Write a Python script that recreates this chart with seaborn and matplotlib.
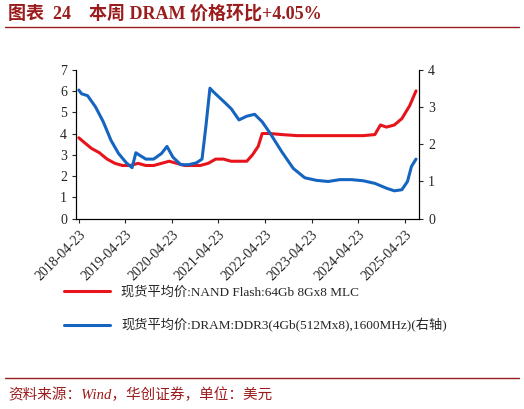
import pandas as pd
import seaborn as sns
import matplotlib.pyplot as plt

# NAND Flash 64Gb 8Gx8 MLC (left axis)
nand_dates = ["2018-04-23", "2018-06-01", "2018-08-01", "2018-10-01", "2018-12-01", "2019-02-01",
              "2019-04-01", "2019-06-01", "2019-08-01", "2019-10-01", "2019-12-01", "2020-02-01",
              "2020-04-01", "2020-06-01", "2020-08-01", "2020-10-01", "2020-12-01", "2021-02-01",
              "2021-04-01", "2021-06-01", "2021-08-01", "2021-10-01", "2021-12-01", "2022-01-15",
              "2022-03-01", "2022-04-01", "2022-06-01", "2022-09-01", "2023-01-01", "2023-06-01",
              "2024-01-01", "2024-06-01", "2024-09-01", "2024-10-15", "2024-12-01", "2025-02-01",
              "2025-04-01", "2025-06-01", "2025-07-21"]
nand_vals = [3.8, 3.6, 3.3, 3.1, 2.8, 2.6, 2.5, 2.5, 2.6, 2.5, 2.5, 2.6,
             2.7, 2.6, 2.5, 2.5, 2.5, 2.6, 2.8, 2.8, 2.7, 2.7, 2.7, 3.0,
             3.4, 4.0, 4.0, 3.95, 3.9, 3.9, 3.9, 3.9, 3.95, 4.4, 4.3, 4.4,
             4.7, 5.3, 6.0]

# DRAM DDR3 4Gb (right axis)
dram_dates = ["2018-04-23", "2018-05-15", "2018-07-01", "2018-09-01", "2018-11-01", "2019-01-01",
              "2019-03-01", "2019-05-01", "2019-06-15", "2019-07-15", "2019-08-15", "2019-10-01",
              "2019-12-01", "2020-02-01", "2020-03-15", "2020-05-01", "2020-07-01", "2020-09-01",
              "2020-11-01", "2020-12-15", "2021-01-15", "2021-02-15", "2021-03-15", "2021-04-15",
              "2021-06-01", "2021-08-01", "2021-10-01", "2021-12-01", "2022-02-01", "2022-04-01",
              "2022-06-01", "2022-09-01", "2022-12-01", "2023-03-01", "2023-06-01", "2023-09-01",
              "2023-12-01", "2024-03-01", "2024-06-01", "2024-09-01", "2024-12-01", "2025-02-01",
              "2025-04-01", "2025-05-15", "2025-06-15", "2025-07-21"]
dram_vals = [3.45, 3.35, 3.3, 3.0, 2.6, 2.1, 1.75, 1.5, 1.37, 1.77, 1.7, 1.6,
             1.6, 1.75, 1.94, 1.65, 1.45, 1.45, 1.5, 1.6, 2.5, 3.5, 3.4, 3.3,
             3.15, 2.95, 2.65, 2.75, 2.8, 2.6, 2.3, 1.8, 1.35, 1.1, 1.03, 1.0,
             1.05, 1.05, 1.02, 0.95, 0.82, 0.75, 0.78, 1.0, 1.4, 1.6]

tick_years = ["2018-04-23", "2019-04-23", "2020-04-23", "2021-04-23", "2022-04-23",
              "2023-04-23", "2024-04-23", "2025-04-23"]

nand = pd.DataFrame({"date": pd.to_datetime(nand_dates), "v": nand_vals})
dram = pd.DataFrame({"date": pd.to_datetime(dram_dates), "v": dram_vals})

sns.set_style("white")
plt.rcParams['font.family'] = ['Liberation Serif', 'Noto Sans CJK SC']

fig = plt.figure(figsize=(5.24, 4.09), dpi=100)
ax = fig.add_axes([0.145, 0.465, 0.655, 0.365])
ax2 = ax.twinx()

red, blue = "#e8141b", "#1565c0"
l1, = ax.plot(nand["date"], nand["v"], color=red, lw=2.2)
l2, = ax2.plot(dram["date"], dram["v"], color=blue, lw=2.2)

ax.set_ylim(0, 7)
ax.set_yticks(range(0, 8))
ax2.set_ylim(0, 4)
ax2.set_yticks(range(0, 5))
ax.set_xlim(pd.Timestamp("2018-04-01"), pd.Timestamp("2025-08-15"))
ticks = pd.to_datetime(tick_years)
ax.set_xticks(ticks)
ax.set_xticklabels([t.strftime("%Y-%m-%d") for t in ticks], rotation=45, ha="right",
                   rotation_mode="anchor", fontsize=10)
for a in (ax, ax2):
    a.tick_params(labelsize=10, length=3, direction="out")
    a.spines["top"].set_visible(False)
    for s in a.spines.values():
        s.set_color("black")
        s.set_linewidth(0.8)
ax.tick_params(axis="both", which="both", left=True, bottom=True)
ax2.tick_params(right=True)

fig.legend([l1, l2], ["现货平均价:NAND Flash:64Gb 8Gx8 MLC",
                      "现货平均价:DRAM:DDR3(4Gb(512Mx8),1600MHz)(右轴)"],
           loc="upper left", bbox_to_anchor=(0.1, 0.33), frameon=False, alignment="left",
           fontsize=9.5, handlelength=3.5, labelspacing=1.5)

fig.text(0.015, 0.955, "图表  24    本周 DRAM 价格环比+4.05%", color="#9b1c1c",
         fontsize=13, fontweight="bold")
fig.add_artist(plt.Line2D([0.01, 0.99], [0.935, 0.935], color="#9b1c1c", lw=1))
fig.add_artist(plt.Line2D([0.01, 0.99], [0.075, 0.075], color="#9b1c1c", lw=1))
fig.text(0.015, 0.025, "资料来源：Wind，华创证券，单位：美元", color="#9b1c1c",
         fontsize=10.5, style="italic")

fig.savefig("out.png", dpi=100)
